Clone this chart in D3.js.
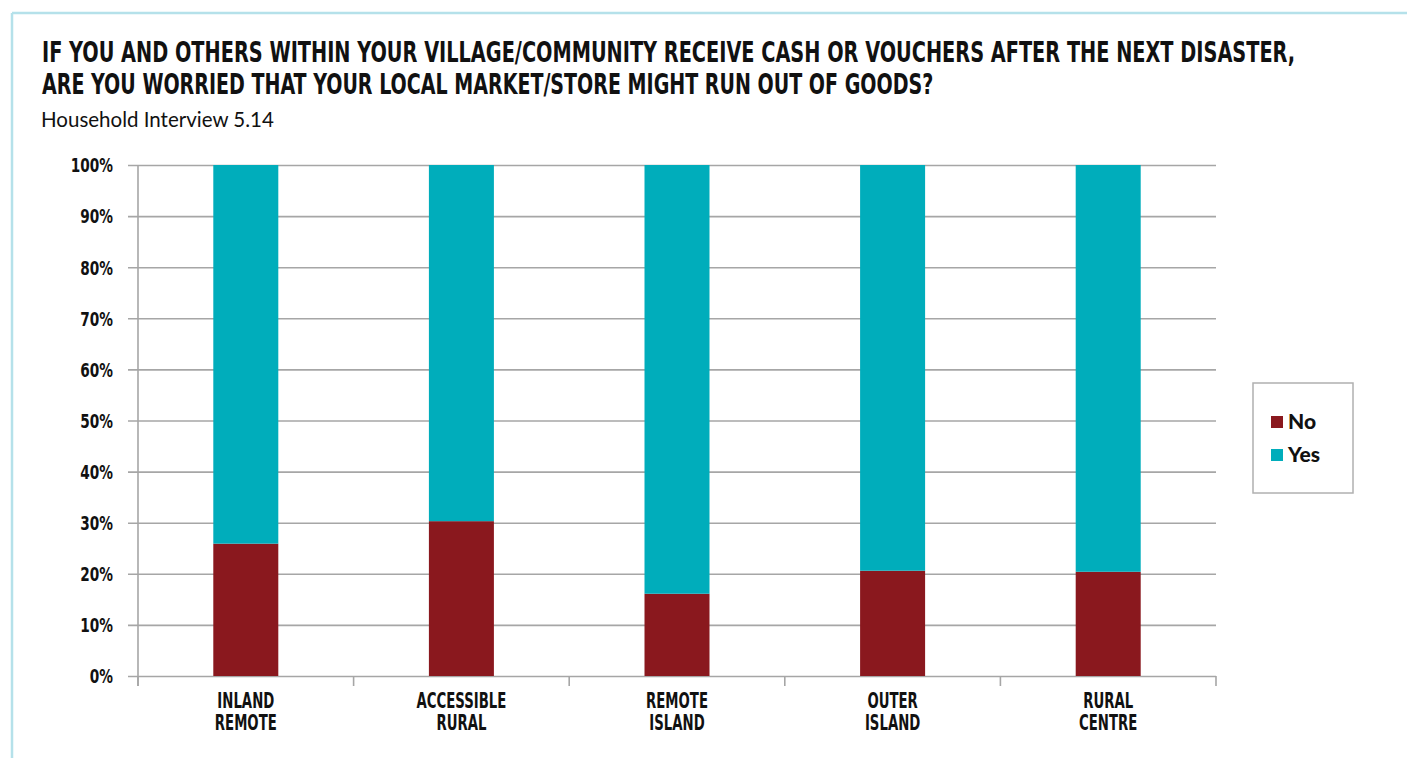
<!DOCTYPE html>
<html>
<head>
<meta charset="utf-8">
<script src="https://cdn.jsdelivr.net/npm/d3@7"></script>
<style>
  html, body { margin: 0; padding: 0; background: #ffffff; }
  svg { display: block; }
</style>
</head>
<body>
<svg id="chart" width="1407" height="758"></svg>
<script>
// Survey answers per location type (percent of households)
const categories = [
  ["INLAND", "REMOTE"],
  ["ACCESSIBLE", "RURAL"],
  ["REMOTE", "ISLAND"],
  ["OUTER", "ISLAND"],
  ["RURAL", "CENTRE"]
];
const noValues  = [25.9, 30.3, 16.1, 20.6, 20.4];
const yesValues = [74.1, 69.7, 83.9, 79.4, 79.6];
const seriesNames = ["No", "Yes"];
const seriesColors = ["#8a181e", "#00adbb"];
const yTicks = [0, 10, 20, 30, 40, 50, 60, 70, 80, 90, 100];

const titleLines = [
  "IF YOU AND OTHERS WITHIN YOUR VILLAGE/COMMUNITY RECEIVE CASH OR VOUCHERS AFTER THE NEXT DISASTER,",
  "ARE YOU WORRIED THAT YOUR LOCAL MARKET/STORE MIGHT RUN OUT OF GOODS?"
];
const subtitle = "Household Interview 5.14";

const condensed = "'DejaVu Sans Condensed', 'Liberation Sans Narrow', 'Arial Narrow', sans-serif";
const humanist = "Lato, 'Open Sans', 'Noto Sans', sans-serif";
const gridColor = "#a6a6a6";

const svg = d3.select("#chart");

// Squeeze a text horizontally so it spans the given width
function fitWidth(sel, x, y, width) {
  const w = sel.node().getComputedTextLength();
  sel.attr("transform", `translate(${x},${y}) scale(${width / w},1)`);
}

// Frame lines along the top and left edge
svg.append("line").attr("x1", 12).attr("x2", 1407).attr("y1", 13).attr("y2", 13)
  .attr("stroke", "#b5e1ea").attr("stroke-width", 2.5);
svg.append("line").attr("x1", 12).attr("x2", 12).attr("y1", 13).attr("y2", 758)
  .attr("stroke", "#b5e1ea").attr("stroke-width", 2.5);

// Title block
const titleWidths = [1254, 892];
titleLines.forEach((t, i) => {
  const tt = svg.append("text")
    .attr("font-family", condensed).attr("font-weight", "bold")
    .attr("font-size", 27.5).attr("fill", "#111")
    .text(t);
  fitWidth(tt, 42, 62 + i * 32, titleWidths[i]);
});
svg.append("text")
  .attr("x", 41).attr("y", 127)
  .attr("font-family", humanist).attr("font-size", 20.5).attr("fill", "#111")
  .text(subtitle);

// Scales
const x0 = 138, x1 = 1216, yTop = 165, yBot = 676;
const x = d3.scaleBand().domain(d3.range(categories.length))
  .range([x0, x1]).paddingInner(0.6985).paddingOuter(0.6985 / 2);
const y = d3.scaleLinear().domain([0, 100]).range([yBot, yTop]);

// Horizontal gridlines with outward ticks
const yAxis = d3.axisLeft(y).tickValues(yTicks).tickSize(x1 - 128).tickFormat(d => d + "%");
const gy = svg.append("g").attr("transform", `translate(${x1},0)`).call(yAxis);
gy.select(".domain").remove();
gy.selectAll(".tick line").attr("stroke", gridColor).attr("stroke-width", 1.6);
gy.selectAll(".tick text")
  .attr("x", null).attr("dy", "0.36em")
  .attr("transform", `translate(${113 - x1},0) scale(0.8,1)`)
  .attr("text-anchor", "end")
  .attr("font-family", condensed).attr("font-weight", "bold")
  .attr("font-size", 19).attr("fill", "#111");

// Vertical axis line
svg.append("line").attr("x1", x0).attr("x2", x0).attr("y1", yTop).attr("y2", yBot + 10)
  .attr("stroke", gridColor).attr("stroke-width", 1.6);

// Category boundary ticks along the bottom
const step = x.step();
const bounds = d3.range(categories.length + 1).map(i => x0 + i * step);
svg.append("g").selectAll("line").data(bounds).join("line")
  .attr("x1", d => d).attr("x2", d => d).attr("y1", yBot).attr("y2", yBot + 10)
  .attr("stroke", gridColor).attr("stroke-width", 1.6);

// Stacked bars
const rows = categories.map((c, i) => ({ i, no: noValues[i], yes: yesValues[i] }));
const stack = d3.stack().keys(["no", "yes"])(rows);
svg.append("g").selectAll("g").data(stack).join("g")
  .attr("fill", (d, k) => seriesColors[k])
  .selectAll("rect").data(d => d).join("rect")
  .attr("x", d => x(d.data.i))
  .attr("width", x.bandwidth())
  .attr("y", d => y(d[1]))
  .attr("height", d => y(d[0]) - y(d[1]));

// Category labels (two lines, condensed)
const labelG = svg.append("g");
categories.forEach((lines, i) => {
  const cx = x(i) + x.bandwidth() / 2;
  lines.forEach((ln, j) => {
    labelG.append("text")
      .attr("transform", `translate(${cx},${708 + j * 22}) scale(0.72,1)`)
      .attr("text-anchor", "middle")
      .attr("font-family", condensed).attr("font-weight", "bold")
      .attr("font-size", 20.5).attr("fill", "#111")
      .text(ln);
  });
});

// Legend
const lg = svg.append("g");
lg.append("rect").attr("x", 1253).attr("y", 383).attr("width", 100).attr("height", 110)
  .attr("fill", "#fff").attr("stroke", "#b0b0b0").attr("stroke-width", 1.5);
seriesNames.forEach((name, k) => {
  const yy = 416 + k * 33;
  lg.append("rect").attr("x", 1271).attr("y", yy).attr("width", 12).attr("height", 12)
    .attr("fill", seriesColors[k]);
  lg.append("text").attr("x", 1288).attr("y", yy + 13)
    .attr("font-family", humanist).attr("font-weight", 900)
    .attr("font-size", 21).attr("fill", "#111")
    .text(name);
});
</script>
</body>
</html>
